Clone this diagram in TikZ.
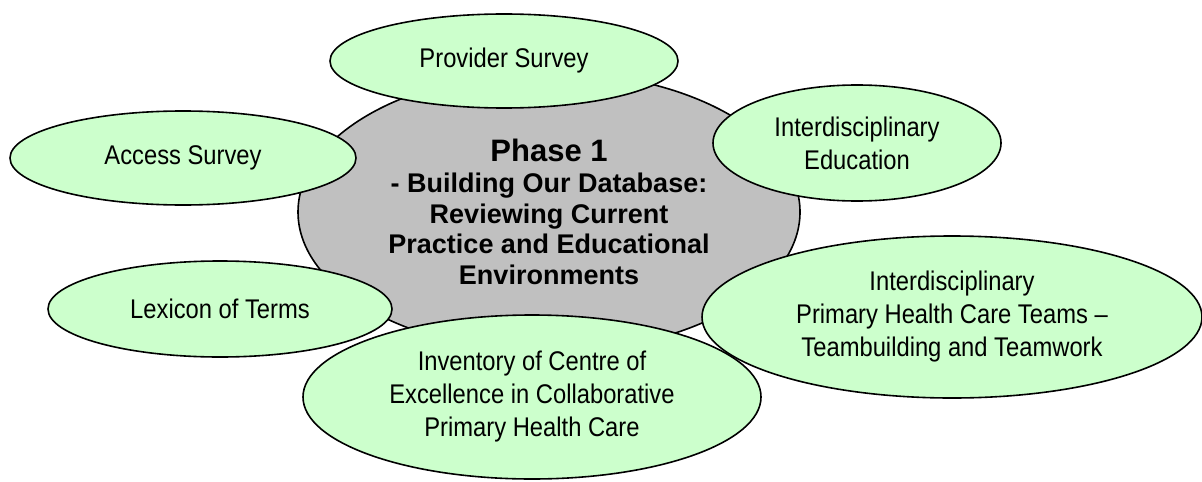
\documentclass[tikz,border=0pt]{standalone}
\usepackage{fontspec}
\setmainfont{Liberation Sans}
\newfontfamily\bubblefont[FakeStretch=0.88]{Liberation Sans}
\usetikzlibrary{shapes.geometric}
\definecolor{topic}{HTML}{CCFFCC}
\definecolor{phase}{HTML}{C0C0C0}
\newcommand{\phasetitle}[1]{{\fontsize{15.5}{19}\selectfont #1}}
\tikzset{
    bubble/.style={ellipse, draw=black, line width=0.8pt, fill=topic,
        inner sep=0pt, align=center, font=\bubblefont\fontsize{13.5}{16.5}\selectfont},
    hub/.style={bubble, fill=phase, font=\bfseries\fontsize{13.5}{15.3}\selectfont},
}

\begin{document}
\begin{tikzpicture}[x=0.5pt, y=-0.5pt]
        \useasboundingbox (0,0) rectangle (1202,481);

        % centre of the phase
        \node[hub, minimum width=251pt, minimum height=140pt] (phase) at (549,212)
            {\phasetitle{Phase 1}\\- Building Our Database:\\Reviewing Current\\Practice and Educational\\Environments};

        % topics round it
        \node[bubble, minimum width=174pt, minimum height=47pt] (provider) at (504,61) {Provider Survey};
        \node[bubble, minimum width=173pt, minimum height=47pt] (access) at (183,158) {Access Survey};
        \node[bubble, minimum width=144pt, minimum height=58pt] (education) at (857,143) {Interdisciplinary\\Education};
        \node[bubble, minimum width=172pt, minimum height=48pt] (lexicon) at (220,309) {Lexicon of Terms};
        \node[bubble, minimum width=229pt, minimum height=82pt] (inventory) at (532,397)
            {Inventory of Centre of\\Excellence in Collaborative\\Primary Health Care};
        \node[bubble, minimum width=250pt, minimum height=81pt] (teams) at (952,317)
            {Interdisciplinary\\Primary Health Care Teams \textendash\\Teambuilding and Teamwork};
\end{tikzpicture}
\end{document}
